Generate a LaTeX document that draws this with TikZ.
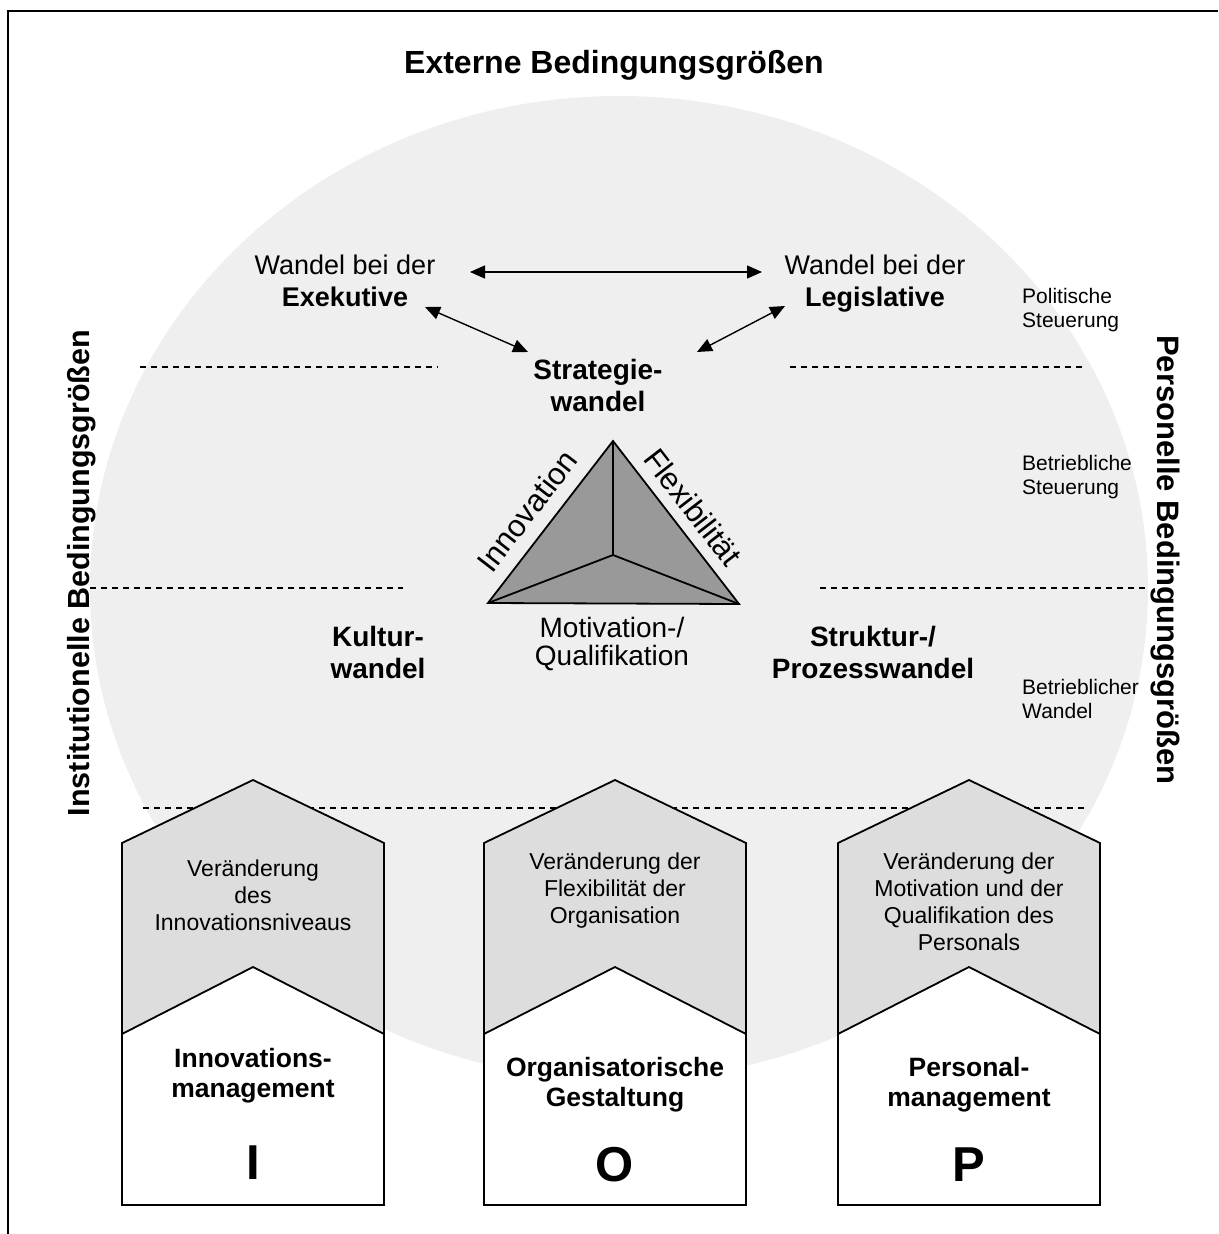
\documentclass[tikz,border=0pt]{standalone}
\usepackage{fontspec}
\setmainfont{Liberation Sans}
\usetikzlibrary{arrows.meta}
\definecolor{circlegray}{HTML}{EFEFEF}
\definecolor{boxgray}{HTML}{DDDDDD}
\definecolor{trigray}{HTML}{999999}
\begin{document}
\begin{tikzpicture}[x=1pt,y=-1pt,
  lab/.style={font=\fontsize{21}{24}\selectfont, align=left, inner sep=0pt, anchor=west},
  mid/.style={font=\fontsize{27}{32}\selectfont, align=center, inner sep=0pt},
  bmid/.style={font=\fontsize{28}{32}\selectfont\bfseries, align=center, inner sep=0pt},
  side/.style={font=\fontsize{31}{36}\selectfont\bfseries, inner sep=0pt},
  tri/.style={font=\fontsize{31}{31}\selectfont, align=center, inner sep=0pt},
  boxtxt/.style={font=\fontsize{23}{27}\selectfont, align=center, inner sep=0pt},
  boxbold/.style={font=\fontsize{26.5}{30}\selectfont\bfseries, align=center, inner sep=0pt},
  boxletter/.style={font=\fontsize{49}{52}\selectfont\bfseries, inner sep=0pt},
  dbl/.style={{Triangle[length=15pt,width=13pt]}-{Triangle[length=15pt,width=13pt]}, line width=1.4pt},
  sepline/.style={dash pattern=on 6pt off 5pt, line width=1.2pt},
  boxout/.style={line width=1.8pt, line join=miter},
]
\useasboundingbox (0,0) rectangle (1218,1234);
% frame
\draw[line width=2.2pt] (8,1234) -- (8,11) -- (1218,11);
% big light ellipse
\fill[circlegray] (619,588) ellipse [x radius=529pt, y radius=492pt];
% title and side labels
\node[side, font=\fontsize{32}{36}\selectfont\bfseries] (title) at (614,65) {Externe Bedingungsgrößen};
\node[side, font=\fontsize{30.5}{36}\selectfont\bfseries, rotate=90] (inst) at (82,573) {Institutionelle Bedingungsgrößen};
\node[side, rotate=-90] (pers) at (1165,560) {Personelle Bedingungsgrößen};
% dashed separators
\draw[sepline] (140,367) -- (438,367);
\draw[sepline] (790,367) -- (1085,367);
\draw[sepline] (90,588) -- (403,588);
\draw[sepline] (820,588) -- (1148,588);
\draw[sepline] (143,808) -- (1088,808);
% right labels
\node[lab] (pol) at (1022,310) {Politische\\Steuerung};
\node[lab] (bst) at (1022,477) {Betriebliche\\Steuerung};
\node[lab] (bwa) at (1022,699) {Betrieblicher\\Wandel};
% top triangle of change
\node[mid] (exe) at (345,281) {Wandel bei der\\\textbf{Exekutive}};
\node[mid] (leg) at (875,284) {Wandel bei der\\\textbf{Legislative}};
\node[bmid] (strat) at (598,385) {Strategie-\\wandel};
\coordinate (h1) at (470,272);
\coordinate (h2) at (762,272);
\coordinate (d1) at (425,307);
\coordinate (d2) at (528,352);
\coordinate (d3) at (785,306);
\coordinate (d4) at (697,352);
\draw[dbl] (h1) -- (h2);
\draw[dbl] (d1) -- (d2);
\draw[dbl] (d3) -- (d4);
% pyramid
\coordinate (tA) at (613,441);
\coordinate (tL) at (488,603);
\coordinate (tR) at (739,604);
\coordinate (tC) at (613,555);
\filldraw[fill=trigray, line width=1.8pt, line join=miter] (tA) -- (tL) -- (tR) -- cycle;
\draw[line width=1.8pt] (tA) -- (tC) (tL) -- (tC) (tR) -- (tC);
\node[tri, rotate=52.3] (inno) at (527,511) {Innovation};
\node[tri, rotate=-52.3] (flex) at (693,507) {Flexibilität};
\node[tri, font=\fontsize{28}{28}\selectfont] (moti) at (612,644) {Motivation-/\\Qualifikation};
\node[bmid] (kult) at (378,652) {Kultur-\\wandel};
\node[bmid] (strk) at (873,652) {Struktur-/\\Prozesswandel};
% boxes
\filldraw[boxout, fill=boxgray] (122,1205) -- (122,843) -- (253,780) -- (384,843) -- (384,1205) -- cycle;
\filldraw[boxout, fill=white] (122,1205) -- (122,1034) -- (253,967) -- (384,1034) -- (384,1205) -- cycle;
\filldraw[boxout, fill=boxgray] (484,1205) -- (484,843) -- (615,780) -- (746,843) -- (746,1205) -- cycle;
\filldraw[boxout, fill=white] (484,1205) -- (484,1034) -- (615,967) -- (746,1034) -- (746,1205) -- cycle;
\filldraw[boxout, fill=boxgray] (838,1205) -- (838,843) -- (969,780) -- (1100,843) -- (1100,1205) -- cycle;
\filldraw[boxout, fill=white] (838,1205) -- (838,1034) -- (969,967) -- (1100,1034) -- (1100,1205) -- cycle;
\node[boxtxt] (iT) at (253,895) {Veränderung\\des\\Innovationsniveaus};
\node[boxtxt] (oT) at (615,891) {Veränderung der\\Flexibilität der\\Organisation};
\node[boxtxt] (pT) at (969,902) {Veränderung der\\Motivation und der\\Qualifikation des\\Personals};
\node[boxbold] (iB) at (253,1076) {Innovations-\\management};
\node[boxbold] (oB) at (615,1085) {Organisatorische\\Gestaltung};
\node[boxbold] (pB) at (969,1085) {Personal-\\management};
\node[boxletter] (iL) at (253,1163) {I};
\node[boxletter] (oL) at (615,1165) {O};
\node[boxletter] (pL) at (969,1165) {P};
\end{tikzpicture}
\end{document}
